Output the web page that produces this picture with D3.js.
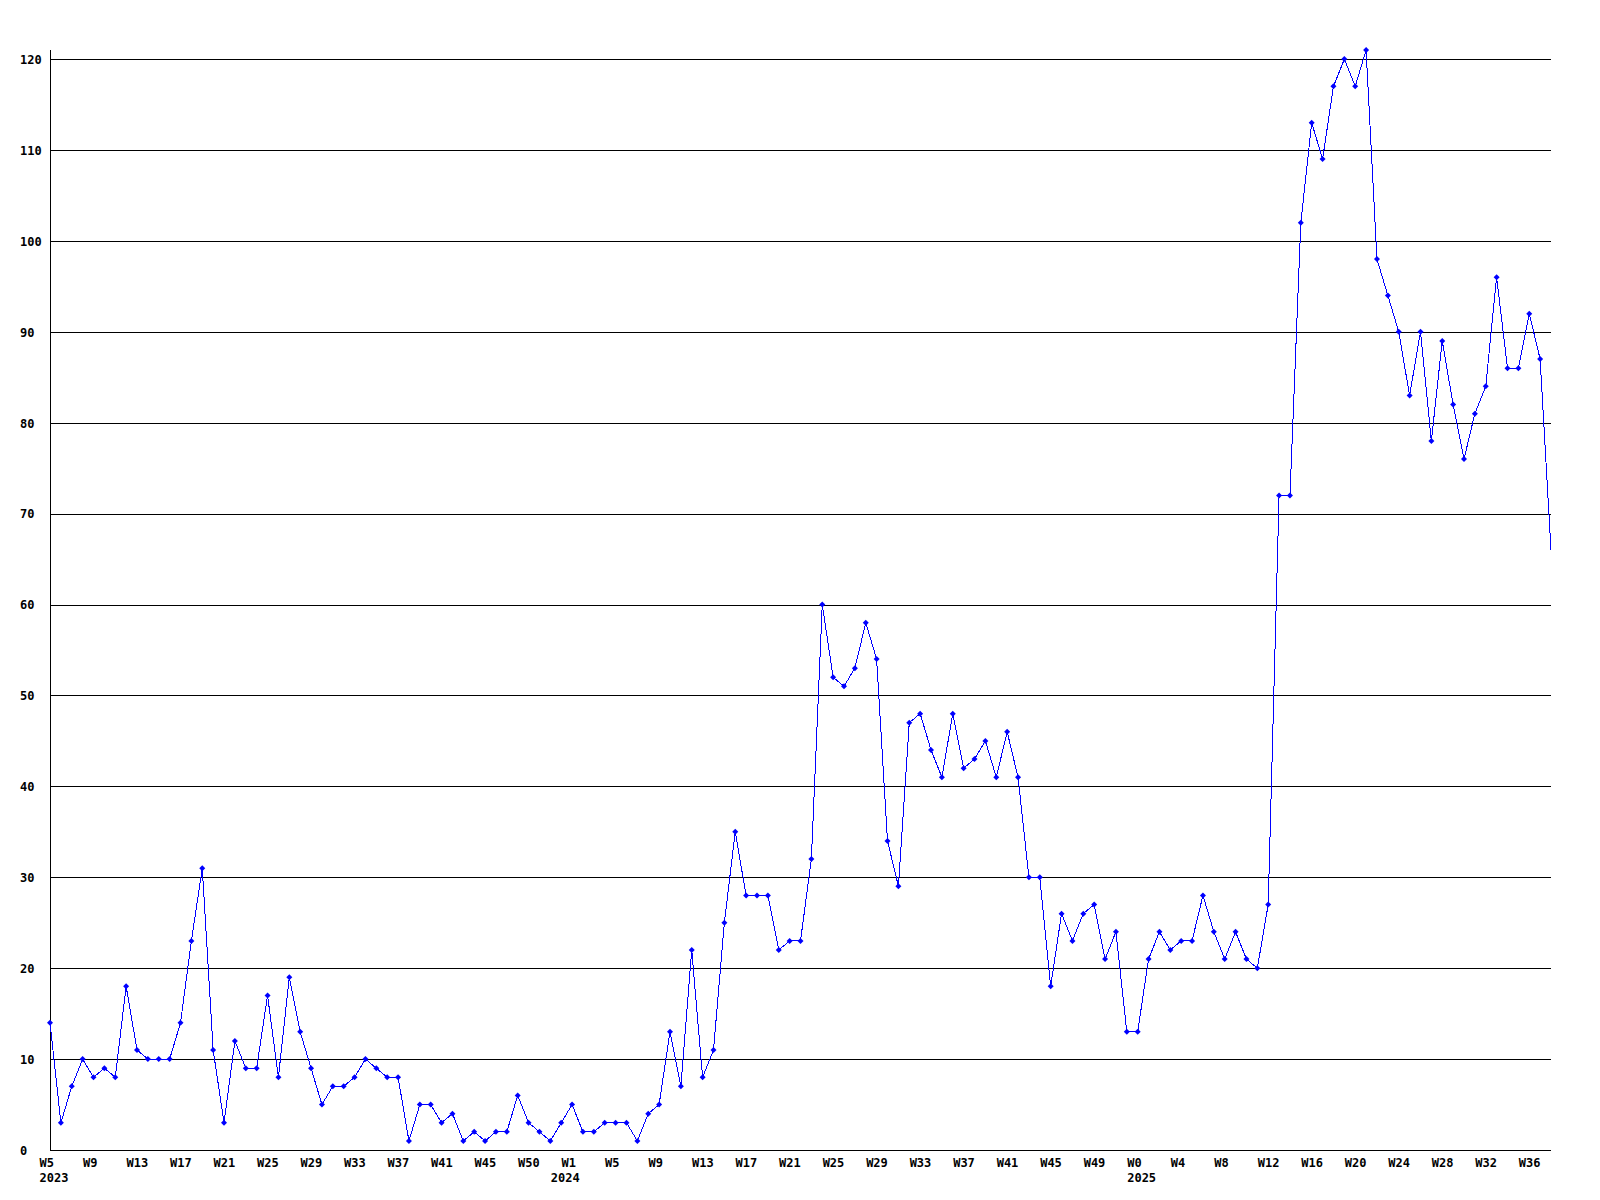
<!DOCTYPE html>
<html>
<head>
<meta charset="utf-8">
<script src="https://cdn.jsdelivr.net/npm/d3@7"></script>
<style>
  html, body { margin: 0; padding: 0; background: #ffffff; }
  svg { display: block; }
  text { font-family: "DejaVu Sans Mono", "Liberation Mono", monospace; font-weight: bold; font-size: 12px; fill: #000; }
</style>
</head>
<body>
<svg id="chart" width="1600" height="1200"></svg>
<script>
// ---- data (weekly counts, W5 2023 .. W38 2025) ----
const values = [
  14, 3, 7, 10, 8, 9, 8, 18, 11, 10, 10, 10, 14, 23, 31, 11, 3, 12, 9, 9,
  17, 8, 19, 13, 9, 5, 7, 7, 8, 10, 9, 8, 8, 1, 5, 5, 3, 4, 1, 2,
  1, 2, 2, 6, 3, 2, 1, 3, 5, 2, 2, 3, 3, 3, 1, 4, 5, 13, 7, 22,
  8, 11, 25, 35, 28, 28, 28, 22, 23, 23, 32, 60, 52, 51, 53, 58, 54, 34, 29, 47,
  48, 44, 41, 48, 42, 43, 45, 41, 46, 41, 30, 30, 18, 26, 23, 26, 27, 21, 24, 13,
  13, 21, 24, 22, 23, 23, 28, 24, 21, 24, 21, 20, 27, 72, 72, 102, 113, 109, 117, 120,
  117, 121, 98, 94, 90, 83, 90, 78, 89, 82, 76, 81, 84, 96, 86, 86, 92, 87, 66
];

// week tick labels (placed every 4th point)
const weekTickIndex = [0, 4, 8, 12, 16, 20, 24, 28, 32, 36, 40, 44,
                       48, 52, 56, 60, 64, 68, 72, 76, 80, 84, 88, 92, 96,
                       100, 104, 108, 112, 116, 120, 124, 128, 132, 136];
const weekTickLabels = ["W5", "W9", "W13", "W17", "W21", "W25", "W29", "W33", "W37", "W41", "W45", "W50",
                        "W1", "W5", "W9", "W13", "W17", "W21", "W25", "W29", "W33", "W37", "W41", "W45", "W49",
                        "W0", "W4", "W8", "W12", "W16", "W20", "W24", "W28", "W32", "W36"];
// year labels (first point of each year)
const yearTickIndex = [0, 47, 100];
const yearTickLabels = ["2023", "2024", "2025"];
// y ticks
const yTicks = [0, 10, 20, 30, 40, 50, 60, 70, 80, 90, 100, 110, 120];
const yMax = 121;

// ---- layout ----
const plotL = 50, plotR = 1551, plotT = 50, plotB = 1150;
const svg = d3.select("#chart");

const x = d3.scaleLinear().domain([0, values.length - 1]).range([plotL, plotR]);
const y = d3.scaleLinear().domain([0, yMax]).range([plotB, plotT]);

// gridlines
const grid = svg.append("g")
  .attr("transform", `translate(${plotL},0)`)
  .call(d3.axisLeft(y).tickValues(yTicks.filter(v => v > 0)).tickSize(-(plotR - plotL)).tickFormat(""));
grid.select(".domain").remove();
grid.selectAll("line").attr("stroke", "#000").attr("stroke-width", 1).attr("shape-rendering", "crispEdges");

// y axis labels
const yAxis = svg.append("g")
  .attr("transform", `translate(${plotL},0)`)
  .call(d3.axisLeft(y).tickValues(yTicks).tickSize(0).tickFormat(d3.format("d")));
yAxis.select(".domain").remove();
yAxis.selectAll("text")
  .attr("text-anchor", "start")
  .attr("x", 20 - plotL)
  .attr("dy", "0.36em");

// axis lines
svg.append("line").attr("x1", plotL).attr("x2", plotL).attr("y1", plotT).attr("y2", plotB)
  .attr("stroke", "#000").attr("shape-rendering", "crispEdges");
svg.append("line").attr("x1", plotL).attr("x2", plotR).attr("y1", plotB).attr("y2", plotB)
  .attr("stroke", "#000").attr("shape-rendering", "crispEdges");

// x axis week labels
const xAxis = svg.append("g")
  .attr("transform", `translate(0,${plotB})`)
  .call(d3.axisBottom(x).tickValues(weekTickIndex).tickSize(0)
    .tickFormat((d, i) => weekTickLabels[i]));
xAxis.select(".domain").remove();
xAxis.selectAll("text")
  .attr("text-anchor", "start")
  .attr("dx", -11)
  .attr("y", 17)
  .attr("dy", null);

// x axis year labels
const yearAxis = svg.append("g")
  .attr("transform", `translate(0,${plotB})`)
  .call(d3.axisBottom(x).tickValues(yearTickIndex).tickSize(0)
    .tickFormat((d, i) => yearTickLabels[i]));
yearAxis.select(".domain").remove();
yearAxis.selectAll("text")
  .attr("text-anchor", "start")
  .attr("dx", -11)
  .attr("y", 32)
  .attr("dy", null);

// data line
const line = d3.line().x((d, i) => x(i)).y(d => y(d));
svg.append("path")
  .datum(values)
  .attr("d", line)
  .attr("fill", "none")
  .attr("stroke", "#0000ff")
  .attr("stroke-width", 1)
  .attr("shape-rendering", "crispEdges");

// markers (last point sits on the plot edge, no marker visible)
const diamond = "M0,-3L3,0L0,3L-3,0Z";
svg.append("g").selectAll("path")
  .data(values.slice(0, values.length - 1))
  .join("path")
  .attr("d", diamond)
  .attr("transform", (d, i) => `translate(${x(i)},${y(d)})`)
  .attr("fill", "#0000ff");
</script>
</body>
</html>
